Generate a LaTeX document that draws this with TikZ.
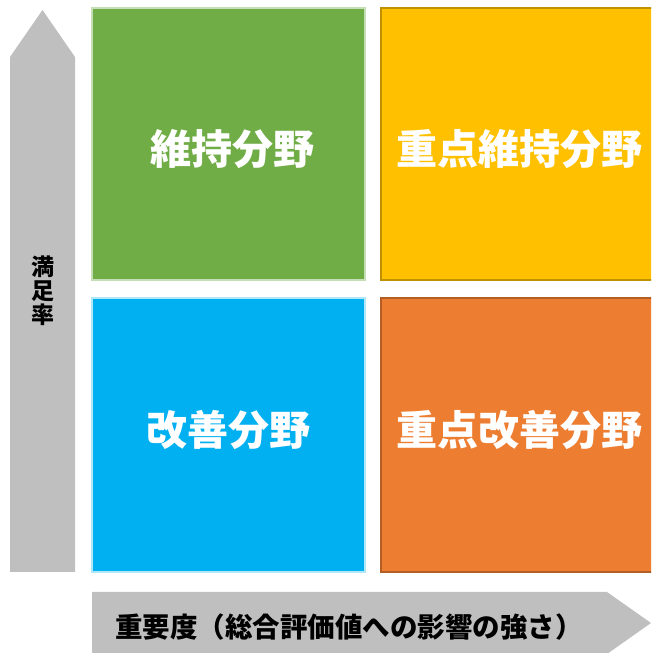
\documentclass[tikz,border=0pt]{standalone}
\usepackage{fontspec}
\newfontfamily\cjk{Noto Sans CJK JP}
\definecolor{cgreen}{HTML}{70AD47}
\definecolor{cyellow}{HTML}{FFC000}
\definecolor{cblue}{HTML}{00B0F0}
\definecolor{corange}{HTML}{ED7D31}
\definecolor{cgray}{HTML}{BFBFBF}
\begin{document}
\begin{tikzpicture}[x=1pt,y=1pt,
  qtext/.style={text=white, font=\cjk\bfseries\fontsize{41}{44}\selectfont},
  axtext/.style={text=black, font=\cjk\bfseries\fontsize{27.5}{30}\selectfont},
]
\useasboundingbox (0,0) rectangle (651,653);
\begin{scope}
\clip (0,0) rectangle (651,653);
% vertical arrow
\fill[cgray] (10,81) -- (10,596) -- (42.5,643) -- (75,596) -- (75,81) -- cycle;
% horizontal arrow
\fill[cgray] (92,61) -- (607,61) -- (651,30) -- (607,-1) -- (92,-1) -- cycle;
% quadrants
\fill[cgreen, draw=cgreen!40!white, line width=1.2pt] (92,373) rectangle (365,645);
\fill[cyellow, draw=cyellow!75!black, line width=1.2pt] (381,373) rectangle (660,645);
\fill[cblue, draw=cblue!30!white, line width=1.2pt] (92,81) rectangle (365,355);
\fill[corange, draw=corange!75!black, line width=1.2pt] (381,81) rectangle (660,355);
\end{scope}
\node[qtext] (q1) at (232,504) {維持分野};
\node[qtext] (q2) at (519,504) {重点維持分野};
\node[qtext] (q3) at (228,223) {改善分野};
\node[qtext] (q4) at (519,223) {重点改善分野};
\node[axtext, anchor=west, inner sep=0pt] (xlab) at (115,25.5) {重要度（総合評価値への影響の強さ）};
\node[text=black, font=\cjk\bfseries\fontsize{23}{25}\selectfont, align=center, inner sep=0pt] (ylab) at (43,362) {満\\[-1pt]足\\[-1pt]率};
\end{tikzpicture}
\end{document}
